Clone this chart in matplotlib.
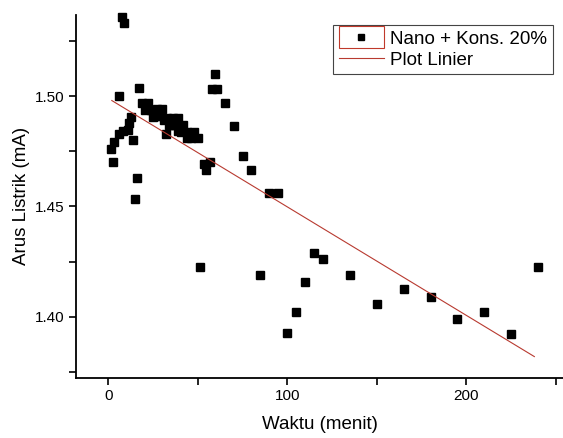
import numpy as np
import matplotlib
matplotlib.use('Agg')
import matplotlib.pyplot as plt
from matplotlib.patches import Rectangle
from matplotlib.lines import Line2D
from matplotlib.legend_handler import HandlerBase

plt.rcParams['font.family'] = ['Liberation Sans', 'DejaVu Sans']

# data
waktu = [1.7, 2.6, 3.5, 6, 6, 7.6, 8, 9, 11, 11.8, 12.8, 14, 15, 16, 17.4,
         19, 22, 20.5, 24, 25, 26, 27, 28, 29, 30, 31, 32, 33, 34, 35, 36,
         37, 38.7, 39, 40.5, 42, 44, 44, 46, 48, 50, 51, 53.5, 54.4, 57,
         58, 59.6, 60.5, 65, 70, 75, 80, 85, 90, 95, 100, 105, 110, 115,
         120, 135, 150, 165, 180, 195, 210, 225, 240]
arus = [1.476, 1.470, 1.479, 1.500, 1.483, 1.536, 1.484, 1.533, 1.4845,
        1.4876, 1.4906, 1.480, 1.4535, 1.463, 1.5035,
        1.4967, 1.4967, 1.4936, 1.4936, 1.4906, 1.491, 1.494, 1.492, 1.491,
        1.494, 1.489, 1.483, 1.490, 1.4868, 1.487, 1.490,
        1.487, 1.490, 1.484, 1.4838, 1.487, 1.4838, 1.481, 1.481, 1.4838,
        1.481, 1.4224, 1.4694, 1.4664, 1.470,
        1.503, 1.510, 1.503, 1.4967, 1.4865, 1.473, 1.4667, 1.419, 1.456,
        1.456, 1.3926, 1.4024, 1.416, 1.429,
        1.426, 1.419, 1.4058, 1.4126, 1.4092, 1.3992, 1.4024, 1.3924, 1.4224]

# linear plot as shown (start/end of the fitted line)
fit_x = [2, 238]
fit_y = [1.498, 1.382]


class BoxedMarker(HandlerBase):
    def create_artists(self, legend, orig_handle, xdescent, ydescent,
                       width, height, fontsize, trans):
        box = Rectangle((-xdescent, -ydescent - 0.35 * height), width, height * 1.7,
                        facecolor='none', edgecolor='#c0392b', lw=0.8,
                        transform=trans)
        mk = Line2D([width / 2 - xdescent], [height / 2 - ydescent], marker='s',
                    color='black', markersize=5, linestyle='none', transform=trans)
        return [box, mk]


fig = plt.figure(figsize=(5.63, 4.38), dpi=100)
ax = fig.add_axes([0.135, 0.138, 0.865, 0.828])

pts, = ax.plot(waktu, arus, 's', color='black', markersize=6, clip_on=False,
               label='Nano + Kons. 20%')
ln, = ax.plot(fit_x, fit_y, color='#b83a30', lw=0.8, label='Plot Linier')

ax.set_xlim(-18, 254)
ax.set_ylim(1.3725, 1.5368)
ax.set_xticks([0, 100, 200])
ax.set_xticks([50, 150, 250], minor=True)
ax.set_yticks([1.40, 1.45, 1.50])
ax.set_yticklabels(['1.40', '1.45', '1.50'])
ax.set_yticks([1.375, 1.425, 1.475, 1.525], minor=True)
ax.tick_params(which='both', direction='out', length=5, width=1.2, labelsize=11)

for s in ['top', 'right']:
    ax.spines[s].set_visible(False)
for s in ['left', 'bottom']:
    ax.spines[s].set_linewidth(1.3)

ax.set_xlabel('Waktu (menit)', fontsize=13.5, labelpad=9)
ax.set_ylabel('Arus Listrik (mA)', fontsize=13.5, labelpad=3)

leg = ax.legend([pts, ln], ['Nano + Kons. 20%', 'Plot Linier'],
                handler_map={pts: BoxedMarker()},
                loc='upper right', bbox_to_anchor=(0.982, 0.943),
                bbox_transform=fig.transFigure, borderaxespad=0,
                fontsize=13.5, fancybox=False, framealpha=1,
                edgecolor='#444444', handlelength=2.4, handletextpad=0.35,
                labelspacing=0.2, borderpad=0.3)
leg.get_frame().set_linewidth(0.8)

fig.savefig('out.png', dpi=100)
